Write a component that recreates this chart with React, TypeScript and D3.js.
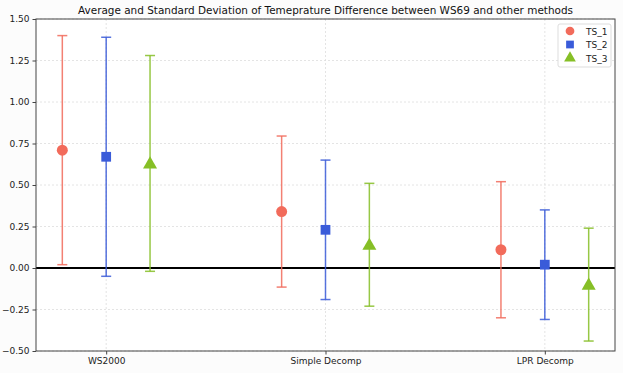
import React, { useEffect, useRef } from 'react'
import * as d3 from 'd3'

const categories = ['WS2000', 'Simple Decomp', 'LPR Decomp']
const seriesNames = ['TS_1', 'TS_2', 'TS_3']
const ts1Mean = [0.71, 0.34, 0.11]
const ts1Std = [0.69, 0.455, 0.41]
const ts2Mean = [0.67, 0.23, 0.02]
const ts2Std = [0.72, 0.42, 0.33]
const ts3Mean = [0.63, 0.14, -0.10]
const ts3Std = [0.65, 0.37, 0.34]
const yTicks = [-0.5, -0.25, 0, 0.25, 0.5, 0.75, 1.0, 1.25, 1.5]

const colors = ['#f26b5b', '#3a5bd9', '#86bf26']
const offsets = [-0.2, 0, 0.2]

export default function App() {
  const ref = useRef<SVGSVGElement>(null)

  useEffect(() => {
    const svg = d3.select(ref.current)
    svg.selectAll('*').remove()
    const width = 623, height = 373
    const m = { left: 36, right: 8, top: 19, bottom: 22 }

    const x = d3.scaleLinear().domain([-0.32, 2.32]).range([m.left, width - m.right])
    const y = d3.scaleLinear().domain([-0.5, 1.5]).range([height - m.bottom, m.top])
    const symbols = [d3.symbolCircle, d3.symbolSquare, d3.symbolTriangle]

    svg.append('rect').attr('width', width).attr('height', height).attr('fill', '#fcfcfc')
    svg.append('rect')
      .attr('x', m.left).attr('y', m.top)
      .attr('width', width - m.left - m.right).attr('height', height - m.top - m.bottom)
      .attr('fill', '#fff')

    // grid
    const g = svg.append('g')
    g.selectAll('.gy').data(yTicks).enter().append('line')
      .attr('x1', m.left).attr('x2', width - m.right)
      .attr('y1', d => y(d)).attr('y2', d => y(d))
      .attr('stroke', '#ddd').attr('stroke-width', 0.8).attr('stroke-dasharray', '2,2')
    g.selectAll('.gx').data(categories).enter().append('line')
      .attr('x1', (d, i) => x(i)).attr('x2', (d, i) => x(i))
      .attr('y1', m.top).attr('y2', height - m.bottom)
      .attr('stroke', '#ddd').attr('stroke-width', 0.8).attr('stroke-dasharray', '2,2')

    // zero line
    svg.append('line')
      .attr('x1', m.left).attr('x2', width - m.right)
      .attr('y1', y(0)).attr('y2', y(0))
      .attr('stroke', '#000').attr('stroke-width', 2)

    const means = [ts1Mean, ts2Mean, ts3Mean]
    const stds = [ts1Std, ts2Std, ts3Std]

    means.forEach((mean, s) => {
      const grp = svg.append('g')
      mean.forEach((v, i) => {
        const cx = x(i + offsets[s])
        const lo = y(v - stds[s][i]), hi = y(v + stds[s][i])
        grp.append('line').attr('x1', cx).attr('x2', cx).attr('y1', lo).attr('y2', hi)
          .attr('stroke', colors[s]).attr('stroke-width', 1.5).attr('opacity', 0.85)
        ;[lo, hi].forEach(yy => {
          grp.append('line').attr('x1', cx - 5).attr('x2', cx + 5).attr('y1', yy).attr('y2', yy)
            .attr('stroke', colors[s]).attr('stroke-width', 1.5).attr('opacity', 0.85)
        })
        grp.append('path').attr('d', d3.symbol(symbols[s], s === 2 ? 85 : 95)())
          .attr('transform', `translate(${cx},${y(v) + (s === 2 ? 1 : 0)})`)
          .attr('fill', colors[s])
      })
    })

    // axes
    const yAxis = d3.axisLeft(y).tickValues(yTicks).tickSize(3.5)
    const ya = svg.append('g').attr('transform', `translate(${m.left},0)`).call(yAxis)
    ya.select('.domain').remove()
    ya.selectAll('text').text((d: any) => d3.format('.2f')(d).replace('-', '\u2212'))
    const xAxis = d3.axisBottom(x).tickValues([0, 1, 2]).tickFormat((d: any) => categories[d]).tickSize(3.5)
    const xa = svg.append('g').attr('transform', `translate(0,${height - m.bottom})`).call(xAxis)
    xa.select('.domain').remove()
    svg.selectAll('.tick line').attr('stroke', '#444')
    svg.selectAll('.tick text').attr('font-family', 'DejaVu Sans').attr('font-size', 9).attr('fill', '#222')

    svg.append('rect')
      .attr('x', m.left).attr('y', m.top)
      .attr('width', width - m.left - m.right).attr('height', height - m.top - m.bottom)
      .attr('fill', 'none').attr('stroke', '#444').attr('stroke-width', 1)

    svg.append('text').attr('x', (m.left + width - m.right) / 2).attr('y', 14)
      .attr('text-anchor', 'middle').attr('font-size', 10.45).attr('font-family', 'DejaVu Sans')
      .attr('fill', '#111')
      .text('Average and Standard Deviation of Temeprature Difference between WS69 and other methods')

    // legend
    const lg = svg.append('g').attr('transform', 'translate(558,24)')
    lg.append('rect').attr('width', 53).attr('height', 43).attr('rx', 2)
      .attr('fill', '#fff').attr('fill-opacity', 0.8).attr('stroke', '#ddd')
    seriesNames.forEach((n, s) => {
      lg.append('path').attr('d', d3.symbol(symbols[s], 60)())
        .attr('transform', `translate(12,${7 + s * 13.5})`).attr('fill', colors[s])
      lg.append('text').attr('x', 28).attr('y', 10.5 + s * 13.5).attr('font-size', 9)
        .attr('font-family', 'DejaVu Sans').attr('fill', '#222').text(n)
    })
  }, [])

  return (
    <svg ref={ref} width={623} height={373} style={{ position: 'absolute', left: 0, top: 0 }} />
  )
}
